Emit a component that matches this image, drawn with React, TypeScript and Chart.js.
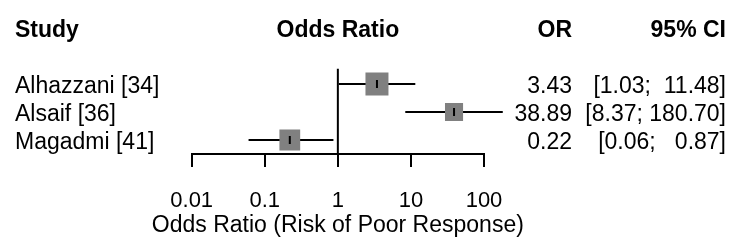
import React, { useEffect, useRef } from "react";
import { Chart, registerables } from "chart.js";

Chart.register(...registerables);

const studies = ["Alhazzani [34]", "Alsaif [36]", "Magadmi [41]"];
const oddsRatios = [3.43, 38.89, 0.22];
const ciLower = [1.03, 8.37, 0.06];
const ciUpper = [11.48, 180.7, 0.87];
const weights = [41.1, 25.4, 33.5];
const tickValues = [0.01, 0.1, 1, 10, 100];
const tickLabels = ["0.01", "0.1", "1", "10", "100"];
const columnHeaders = ["Study", "Odds Ratio", "OR", "95% CI"];
const axisTitle = "Odds Ratio (Risk of Poor Response)";

const FONT = '"Liberation Sans", Arial, Helvetica, sans-serif';
const MAX_BOX = 23;

export default function App() {
  const ref = useRef<HTMLCanvasElement | null>(null);

  useEffect(() => {
    const canvas = ref.current;
    if (!canvas) return;
    const rows = studies.map((_, i) => i + 1);
    const wMax = Math.max(...weights);
    const boxSides = weights.map((w) => MAX_BOX * Math.sqrt(w / wMax));
    const upStr = ciUpper.map((u) => u.toFixed(2));
    const upLen = Math.max(...upStr.map((s) => s.length));
    const ciText = ciLower.map(
      (l, i) => `[${l.toFixed(2)}; ${upStr[i].padStart(upLen, " ")}]`
    );

    const textPlugin = {
      id: "forestText",
      afterDraw(chart: any) {
        const { ctx, chartArea } = chart;
        const y = chart.scales.y;
        const cx = (chartArea.left + chartArea.right) / 2;
        ctx.save();
        ctx.fillStyle = "#000";
        ctx.textBaseline = "alphabetic";
        const headY = 36.7;
        ctx.font = `bold 23px ${FONT}`;
        ctx.textAlign = "left";
        ctx.fillText(columnHeaders[0], 15, headY);
        ctx.textAlign = "center";
        ctx.fillText(columnHeaders[1], cx, headY);
        ctx.textAlign = "right";
        ctx.fillText(columnHeaders[2], 572, headY);
        ctx.fillText(columnHeaders[3], 726, headY);
        ctx.font = `23px ${FONT}`;
        rows.forEach((r, i) => {
          const py = y.getPixelForValue(r) + 8.5;
          ctx.textAlign = "left";
          ctx.fillText(studies[i], 15, py);
          ctx.textAlign = "right";
          ctx.fillText(oddsRatios[i].toFixed(2), 572, py);
          ctx.fillText(ciText[i], 726, py);
        });
        // x-axis title (drawn here so it is not squeezed to the scale width)
        ctx.textAlign = "center";
        ctx.fillText(axisTitle, cx, 231.7);
        ctx.restore();
      },
    };

    const chart = new Chart(canvas, {
      type: "scatter",
      data: {
        datasets: [
          {
            label: "centre",
            data: rows.map((r, i) => ({ x: oddsRatios[i], y: r })),
            pointStyle: "line",
            rotation: 90,
            pointRadius: 4,
            borderWidth: 2,
            borderColor: "#000",
            order: 0,
          } as any,
          {
            label: "boxes",
            data: rows.map((r, i) => ({ x: oddsRatios[i], y: r })),
            pointStyle: "rect",
            pointRadius: boxSides.map((s) => s / Math.SQRT2),
            backgroundColor: "#808080",
            borderWidth: 0,
            order: 1,
          },
          ...rows.map((r, i) => ({
            label: "ci" + i,
            data: [
              { x: ciLower[i], y: r },
              { x: ciUpper[i], y: r },
            ],
            showLine: true,
            pointRadius: 0,
            borderWidth: 2,
            borderColor: "#000",
            clip: false as any,
            order: 2,
          })),
          {
            label: "ref",
            data: [
              { x: 1, y: 0.45 },
              { x: 1, y: 3.5 },
            ],
            showLine: true,
            pointRadius: 0,
            borderWidth: 2,
            borderColor: "#000",
            order: 3,
          },
        ],
      },
      options: {
        responsive: false,
        animation: false,
        devicePixelRatio: 1,
        events: [],
        layout: { padding: { left: 191.7, right: 266, top: 68.6, bottom: 0 } },
        plugins: { legend: { display: false }, tooltip: { enabled: false } },
        scales: {
          x: {
            type: "logarithmic",
            min: 0.01,
            max: 100,
            afterBuildTicks: (scale: any) => {
              scale.ticks = tickValues.map((v) => ({ value: v }));
            },
            afterFit: (scale: any) => {
              scale.height = 96;
            },
            border: { display: true, color: "#000", width: 2 },
            grid: {
              drawOnChartArea: false,
              drawTicks: true,
              tickLength: 13,
              tickWidth: 2,
              tickColor: "#000",
              color: "#000",
              lineWidth: 2,
            },
            ticks: {
              autoSkip: false,
              maxRotation: 0,
              padding: 21,
              color: "#000",
              font: { family: FONT, size: 22 },
              callback: (_v: any, i: number) => tickLabels[i],
            },
            title: { display: false },
          },
          y: {
            type: "linear",
            display: false,
            reverse: true,
            min: 0.45,
            max: 3.5,
          },
        },
      },
      plugins: [textPlugin],
    });
    return () => chart.destroy();
  }, []);

  return (
    <div style={{ position: "fixed", left: 0, top: 0, width: 750, height: 250, background: "#fff" }}>
      <canvas ref={ref} width={750} height={250} />
    </div>
  );
}
